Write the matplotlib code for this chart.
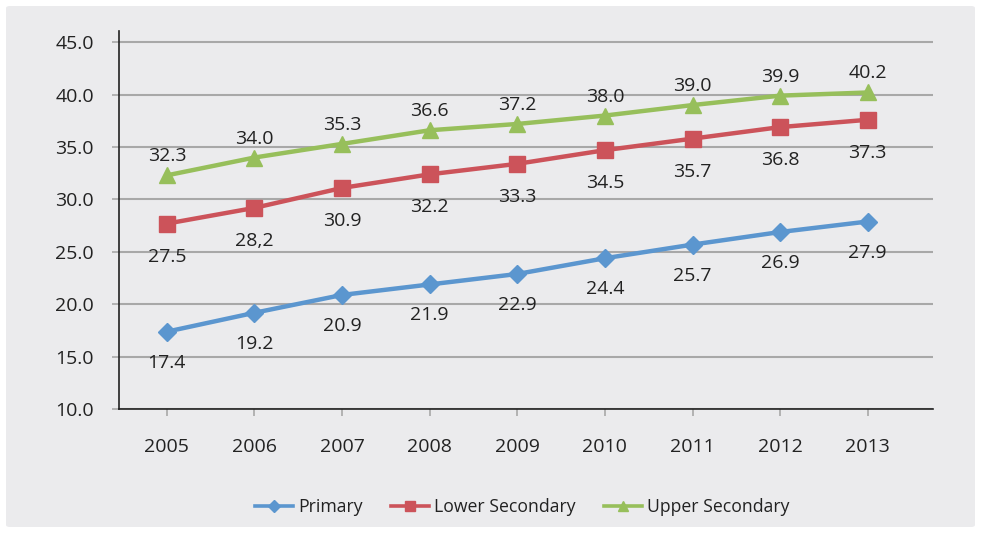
import matplotlib
matplotlib.use("Agg")
import matplotlib.pyplot as plt
from matplotlib.patches import FancyBboxPatch

plt.rcParams['font.family'] = ['Open Sans', 'DejaVu Sans']

years = ["2005", "2006", "2007", "2008", "2009", "2010", "2011", "2012", "2013"]
primary = [17.4, 19.2, 20.9, 21.9, 22.9, 24.4, 25.7, 26.9, 27.9]
lower_sec = [27.7, 29.2, 31.1, 32.4, 33.4, 34.7, 35.8, 36.9, 37.6]
upper_sec = [32.3, 34.0, 35.3, 36.6, 37.2, 38.0, 39.0, 39.9, 40.2]

primary_lbl = ["17.4", "19.2", "20.9", "21.9", "22.9", "24.4", "25.7", "26.9", "27.9"]
lower_lbl = ["27.5", "28,2", "30.9", "32.2", "33.3", "34.5", "35.7", "36.8", "37.3"]
upper_lbl = ["32.3", "34.0", "35.3", "36.6", "37.2", "38.0", "39.0", "39.9", "40.2"]

yticks = [10, 15, 20, 25, 30, 35, 40, 45]

blue = "#5B96CF"
red = "#CC535A"
green = "#97BF5B"
txt = "#222222"
grid_c = "#A8A8A8"

fig = plt.figure(figsize=(9.81, 5.33), dpi=100)
fig.patch.set_facecolor("white")
bg = FancyBboxPatch((6 / 981, 6 / 533), 969 / 981, 521 / 533,
                    boxstyle="round,pad=0,rounding_size=0.004",
                    transform=fig.transFigure, facecolor="#EBEBED",
                    edgecolor="none", zorder=-5)
fig.patches.append(bg)

ax = fig.add_axes([119 / 981, 1 - 409.3 / 533, (933 - 119) / 981, (409.3 - 30.6) / 533])
ax.set_facecolor("none")
ax.set_zorder(2)

x = list(range(len(years)))
ax.plot(x, primary, color=blue, lw=3.2, marker="D", ms=9, label="Primary", zorder=3)
ax.plot(x, lower_sec, color=red, lw=3.2, marker="s", ms=11, label="Lower Secondary", zorder=3)
ax.plot(x, upper_sec, color=green, lw=3.2, marker="^", ms=11, label="Upper Secondary", zorder=3)

for xi, v, s in zip(x, primary, primary_lbl):
    ax.annotate(s, (xi, v), xytext=(0, -31), textcoords="offset pixels",
                ha="center", va="center", fontsize=14, color=txt)
for xi, v, s in zip(x, lower_sec, lower_lbl):
    ax.annotate(s, (xi, v), xytext=(0, -33), textcoords="offset pixels",
                ha="center", va="center", fontsize=14, color=txt)
for xi, v, s in zip(x, upper_sec, upper_lbl):
    ax.annotate(s, (xi, v), xytext=(0, 19), textcoords="offset pixels",
                ha="center", va="center", fontsize=14, color=txt)

ax.set_xlim(-0.546, 8.745)
ax.set_ylim(10, 46.1)
ax.set_yticks(yticks)
ax.set_yticklabels([f"{t:.1f}" for t in yticks])
ax.set_xticks(x)
ax.set_xticklabels(years)
ax.yaxis.grid(True, color=grid_c, lw=1.5)
ax.set_axisbelow(True)

for side in ["top", "right"]:
    ax.spines[side].set_visible(False)
ax.spines["left"].set_color("#222222")
ax.spines["bottom"].set_color("#222222")
ax.spines["left"].set_linewidth(1.2)
ax.spines["bottom"].set_linewidth(1.2)

ax.tick_params(axis="y", length=5, width=1.2, color=grid_c, pad=13, labelsize=14, labelcolor=txt)
ax.tick_params(axis="x", length=5, width=1.2, color=grid_c, pad=16, labelsize=14, labelcolor=txt)

leg = fig.legend(loc="center", bbox_to_anchor=(522 / 981, 1 - 507 / 533), ncol=3, frameon=False,
                 fontsize=12.7, handlelength=2.15, handletextpad=0.3, columnspacing=1.6,
                 markerscale=0.7, labelcolor=txt)
for h in leg.legend_handles:
    h.set_linewidth(2.6)

fig.savefig("out.png", dpi=100, facecolor=fig.get_facecolor())
